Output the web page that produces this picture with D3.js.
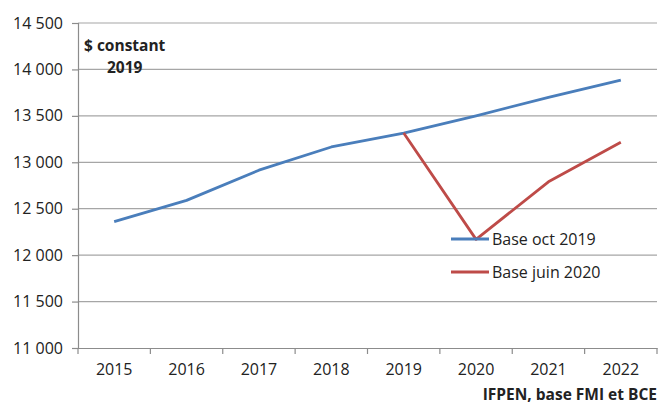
<!DOCTYPE html>
<html>
<head>
<meta charset="utf-8">
<script src="https://cdn.jsdelivr.net/npm/d3@7"></script>
<style>
  body { margin: 0; background: #fff; }
  svg text { font-family: "Open Sans", "Liberation Sans", sans-serif; fill: #222; }
</style>
</head>
<body>
<svg width="661" height="405"></svg>
<script>
// data
const years = ["2015", "2016", "2017", "2018", "2019", "2020", "2021", "2022"];
const baseOct2019 = [12360, 12590, 12915, 13165, 13315, 13500, 13700, 13885];
const baseJuin2020 = [null, null, null, null, 13315, 12170, 12790, 13215];
const yTicks = [11000, 11500, 12000, 12500, 13000, 13500, 14000, 14500];
const seriesNames = ["Base oct 2019", "Base juin 2020"];
const seriesColors = ["#4a7ebb", "#be4b48"];

// dimensions
let margin = { top: 23, right: 4, bottom: 57, left: 78 };
let width = 661 - margin.left - margin.right;
let height = 405 - margin.top - margin.bottom;

let svg = d3.select("svg");
let g = svg.append("g").attr("transform", `translate(${margin.left}, ${margin.top})`);

let x = d3.scaleBand().domain(years).range([0, width]);
let y = d3.scaleLinear().domain([11000, 14500]).range([height, 0]);

// gridlines
g.append("g")
  .selectAll("line")
  .data(yTicks.slice(1))
  .join("line")
  .attr("x1", 0).attr("x2", width)
  .attr("y1", d => y(d)).attr("y2", d => y(d))
  .attr("stroke", "#a6a6a6").attr("stroke-width", 1.2);

// y axis
let yAxis = g.append("g")
  .call(d3.axisLeft(y).tickValues(yTicks).tickSize(6).tickPadding(9)
    .tickFormat(d => d3.format(",")(d).replace(",", " ")));
yAxis.select(".domain").attr("stroke", "#8c8c8c").attr("stroke-width", 1.2);
yAxis.selectAll(".tick line").attr("stroke", "#8c8c8c").attr("stroke-width", 1.2);
yAxis.selectAll("text").style("font-size", "16px").attr("fill", "#222");

// x axis
let xAxis = g.append("g")
  .attr("transform", `translate(0, ${height})`)
  .call(d3.axisBottom(x).tickSize(0).tickPadding(16));
xAxis.select(".domain").attr("stroke", "#8c8c8c").attr("stroke-width", 1.2);
xAxis.selectAll("text").style("font-size", "16px").attr("fill", "#222");
// category boundary ticks
g.append("g")
  .selectAll("line")
  .data(years.concat(["end"]))
  .join("line")
  .attr("x1", (d, i) => i * x.step()).attr("x2", (d, i) => i * x.step())
  .attr("y1", height).attr("y2", height + 6)
  .attr("stroke", "#8c8c8c").attr("stroke-width", 1.2);

// lines
let line = d3.line()
  .defined(d => d.v != null)
  .x(d => x(d.year) + x.bandwidth() / 2)
  .y(d => y(d.v));

[baseOct2019, baseJuin2020].forEach((s, num) => {
  g.append("path")
    .attr("fill", "none")
    .attr("stroke", seriesColors[num])
    .attr("stroke-width", 2.8)
    .attr("stroke-linejoin", "round")
    .attr("d", line(years.map((yr, i) => ({ year: yr, v: s[i] }))));
});

// legend
let legend = svg.append("g").attr("transform", "translate(451, 239)");
seriesNames.forEach((name, num) => {
  let row = legend.append("g").attr("transform", `translate(0, ${num * 33})`);
  row.append("line")
    .attr("x1", 0).attr("x2", 38)
    .attr("stroke", seriesColors[num]).attr("stroke-width", 2.8);
  row.append("text")
    .attr("x", 41).attr("dy", "0.35em")
    .style("font-size", "16px")
    .text(name);
});

// annotations
svg.append("text").attr("x", 84).attr("y", 51)
  .style("font-size", "15.5px").style("font-weight", "bold").text("$ constant");
svg.append("text").attr("x", 107).attr("y", 73)
  .style("font-size", "15.5px").style("font-weight", "bold").text("2019");
svg.append("text").attr("x", 657).attr("y", 400)
  .attr("text-anchor", "end")
  .style("font-size", "15.5px").style("font-weight", "bold").text("IFPEN, base FMI et BCE");
</script>
</body>
</html>
